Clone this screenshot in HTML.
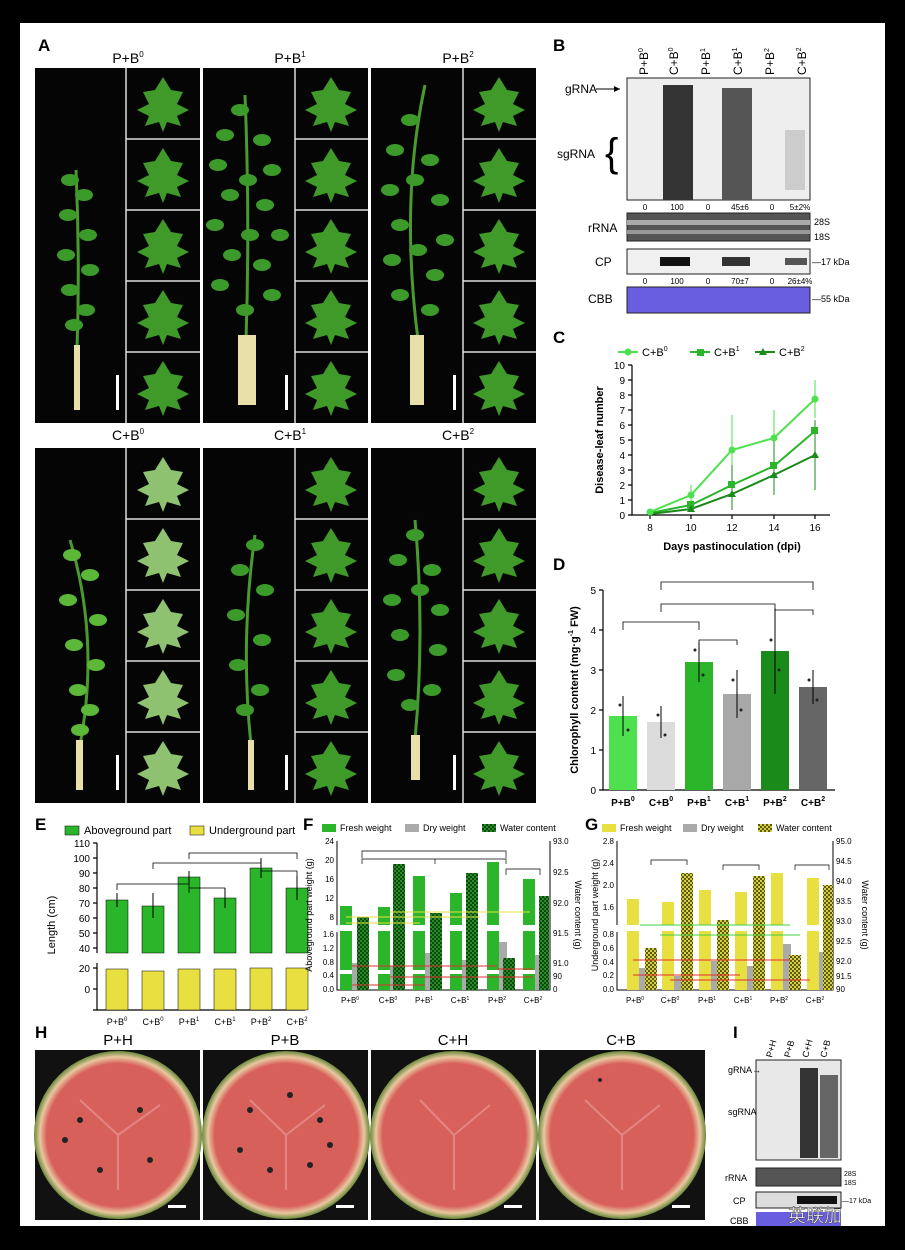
<!DOCTYPE html>
<html><head><meta charset="utf-8"><style>
html,body{margin:0;padding:0;background:#000;}
svg{display:block;font-family:"Liberation Sans",Arial,sans-serif;}
</style></head><body>
<svg width="905" height="1250" viewBox="0 0 905 1250" xmlns="http://www.w3.org/2000/svg">
<defs>
<pattern id="chk" width="4" height="4" patternUnits="userSpaceOnUse"><rect width="4" height="4" fill="#0a4a0a"/><rect width="2" height="2" fill="#2a8a2a"/><rect x="2" y="2" width="2" height="2" fill="#2a8a2a"/></pattern>
<pattern id="chky" width="4" height="4" patternUnits="userSpaceOnUse"><rect width="4" height="4" fill="#5a5a10"/><rect width="2" height="2" fill="#d8d040"/><rect x="2" y="2" width="2" height="2" fill="#d8d040"/></pattern>
<radialGradient id="melon" cx="50%" cy="50%" r="50%"><stop offset="0.85" stop-color="#d8605a"/><stop offset="0.93" stop-color="#e8c8a0"/><stop offset="1" stop-color="#6a8a3a"/></radialGradient>
<path id="leaf" d="M0,-27 L8,-14 L20,-12 L14,0 L26,6 L14,12 L18,22 L4,18 L0,28 L-4,18 L-18,22 L-14,12 L-26,6 L-14,0 L-20,-12 L-8,-14 Z"/>
<g id="pl"><ellipse cx="0" cy="0" rx="9" ry="6"/></g>
</defs>
<rect x="0" y="0" width="905" height="1250" fill="#000"/>
<rect x="20" y="23" width="865" height="1203" fill="#fff"/>

<!-- Panel A -->
<text x="38" y="51" font-size="17" font-weight="bold">A</text>
<g font-size="14" text-anchor="middle">
<text x="128" y="63">P+B<tspan font-size="8" dy="-6">0</tspan></text>
<text x="290" y="63">P+B<tspan font-size="8" dy="-6">1</tspan></text>
<text x="458" y="63">P+B<tspan font-size="8" dy="-6">2</tspan></text>
<text x="128" y="440">C+B<tspan font-size="8" dy="-6">0</tspan></text>
<text x="290" y="440">C+B<tspan font-size="8" dy="-6">1</tspan></text>
<text x="458" y="440">C+B<tspan font-size="8" dy="-6">2</tspan></text>
</g>
<rect x="35" y="68" width="165" height="355" fill="#050505"/>
<rect x="203" y="68" width="165" height="355" fill="#050505"/>
<rect x="371" y="68" width="165" height="355" fill="#050505"/>
<rect x="35" y="448" width="165" height="355" fill="#050505"/>
<rect x="203" y="448" width="165" height="355" fill="#050505"/>
<rect x="371" y="448" width="165" height="355" fill="#050505"/>
<g stroke="#ddd" stroke-width="1.5" fill="none">
<line x1="126" y1="68" x2="126" y2="423"/><line x1="295" y1="68" x2="295" y2="423"/><line x1="463" y1="68" x2="463" y2="423"/>
<line x1="126" y1="448" x2="126" y2="803"/><line x1="295" y1="448" x2="295" y2="803"/><line x1="463" y1="448" x2="463" y2="803"/>
<path d="M126 139H200M126 210H200M126 281H200M126 352H200M295 139H368M295 210H368M295 281H368M295 352H368M463 139H536M463 210H536M463 281H536M463 352H536"/>
<path d="M126 519H200M126 590H200M126 661H200M126 732H200M295 519H368M295 590H368M295 661H368M295 732H368M463 519H536M463 590H536M463 661H536M463 732H536"/>
</g>
<!-- leaves -->
<g fill="#3f9a2a">
<use href="#leaf" x="163" y="104"/><use href="#leaf" x="163" y="175"/><use href="#leaf" x="163" y="246"/><use href="#leaf" x="163" y="317"/><use href="#leaf" x="163" y="388"/>
<use href="#leaf" x="331" y="104"/><use href="#leaf" x="331" y="175"/><use href="#leaf" x="331" y="246"/><use href="#leaf" x="331" y="317"/><use href="#leaf" x="331" y="388"/>
<use href="#leaf" x="499" y="104"/><use href="#leaf" x="499" y="175"/><use href="#leaf" x="499" y="246"/><use href="#leaf" x="499" y="317"/><use href="#leaf" x="499" y="388"/>
<use href="#leaf" x="331" y="484"/><use href="#leaf" x="331" y="555"/><use href="#leaf" x="331" y="626"/><use href="#leaf" x="331" y="697"/><use href="#leaf" x="331" y="768"/>
<use href="#leaf" x="499" y="484"/><use href="#leaf" x="499" y="555"/><use href="#leaf" x="499" y="626"/><use href="#leaf" x="499" y="697"/><use href="#leaf" x="499" y="768"/>
</g>
<g fill="#8fc270">
<use href="#leaf" x="163" y="484"/><use href="#leaf" x="163" y="555"/><use href="#leaf" x="163" y="626"/><use href="#leaf" x="163" y="697"/><use href="#leaf" x="163" y="768"/>
</g>
<!-- plants: stems -->
<g stroke="#4a9a30" stroke-width="3" fill="none">
<path d="M76 170 Q80 260 77 350"/>
<path d="M245 95 Q250 220 246 340"/>
<path d="M425 85 Q400 200 418 340"/>
<path d="M70 540 Q100 640 80 745"/>
<path d="M255 535 Q240 640 251 745"/>
<path d="M415 520 Q425 630 415 740"/>
</g>
<g fill="#3c9a2a">
<!-- P+B0 -->
<use href="#pl" x="70" y="180"/><use href="#pl" x="84" y="195"/><use href="#pl" x="68" y="215"/><use href="#pl" x="88" y="235"/><use href="#pl" x="66" y="255"/><use href="#pl" x="90" y="270"/><use href="#pl" x="70" y="290"/><use href="#pl" x="86" y="310"/><use href="#pl" x="74" y="325"/>
<!-- P+B1 -->
<use href="#pl" x="240" y="110"/><use href="#pl" x="225" y="135"/><use href="#pl" x="262" y="140"/><use href="#pl" x="218" y="165"/><use href="#pl" x="272" y="170"/><use href="#pl" x="230" y="195"/><use href="#pl" x="265" y="205"/><use href="#pl" x="215" y="225"/><use href="#pl" x="280" y="235"/><use href="#pl" x="232" y="255"/><use href="#pl" x="262" y="265"/><use href="#pl" x="220" y="285"/><use href="#pl" x="272" y="295"/><use href="#pl" x="245" y="310"/><use href="#pl" x="248" y="180"/><use href="#pl" x="250" y="235"/>
<!-- P+B2 -->
<use href="#pl" x="410" y="120"/><use href="#pl" x="395" y="150"/><use href="#pl" x="430" y="160"/><use href="#pl" x="390" y="190"/><use href="#pl" x="440" y="200"/><use href="#pl" x="400" y="225"/><use href="#pl" x="445" y="240"/><use href="#pl" x="392" y="260"/><use href="#pl" x="435" y="275"/><use href="#pl" x="400" y="295"/><use href="#pl" x="430" y="310"/><use href="#pl" x="415" y="180"/><use href="#pl" x="418" y="250"/>
<!-- C+B2 -->
<use href="#pl" x="415" y="535"/><use href="#pl" x="398" y="560"/><use href="#pl" x="432" y="570"/><use href="#pl" x="392" y="600"/><use href="#pl" x="440" y="610"/><use href="#pl" x="400" y="635"/><use href="#pl" x="438" y="650"/><use href="#pl" x="396" y="675"/><use href="#pl" x="432" y="690"/><use href="#pl" x="410" y="705"/><use href="#pl" x="420" y="590"/>
<!-- C+B1 -->
<use href="#pl" x="255" y="545"/><use href="#pl" x="240" y="570"/><use href="#pl" x="265" y="590"/><use href="#pl" x="236" y="615"/><use href="#pl" x="262" y="640"/><use href="#pl" x="238" y="665"/><use href="#pl" x="260" y="690"/><use href="#pl" x="245" y="710"/>
</g>
<g fill="#5cb838">
<use href="#pl" x="72" y="555"/><use href="#pl" x="90" y="575"/><use href="#pl" x="68" y="600"/><use href="#pl" x="98" y="620"/><use href="#pl" x="74" y="645"/><use href="#pl" x="96" y="665"/><use href="#pl" x="78" y="690"/><use href="#pl" x="90" y="710"/><use href="#pl" x="80" y="730"/>
</g>
<g fill="#e8e0a8">
<rect x="74" y="345" width="6" height="65"/><rect x="238" y="335" width="18" height="70"/><rect x="410" y="335" width="14" height="70"/>
<rect x="76" y="740" width="7" height="50"/><rect x="248" y="740" width="6" height="50"/><rect x="411" y="735" width="9" height="45"/>
</g>
<g fill="#fff"><rect x="116" y="375" width="3" height="35"/><rect x="285" y="375" width="3" height="35"/><rect x="453" y="375" width="3" height="35"/><rect x="116" y="755" width="3" height="35"/><rect x="285" y="755" width="3" height="35"/><rect x="453" y="755" width="3" height="35"/></g>

<!-- Panel B -->
<text x="553" y="51" font-size="17" font-weight="bold">B</text>
<g font-size="12" text-anchor="start">
<text transform="translate(648,75) rotate(-90)">P+B<tspan font-size="7" dy="-5">0</tspan></text>
<text transform="translate(678,75) rotate(-90)">C+B<tspan font-size="7" dy="-5">0</tspan></text>
<text transform="translate(710,75) rotate(-90)">P+B<tspan font-size="7" dy="-5">1</tspan></text>
<text transform="translate(742,75) rotate(-90)">C+B<tspan font-size="7" dy="-5">1</tspan></text>
<text transform="translate(774,75) rotate(-90)">P+B<tspan font-size="7" dy="-5">2</tspan></text>
<text transform="translate(806,75) rotate(-90)">C+B<tspan font-size="7" dy="-5">2</tspan></text>
</g>
<rect x="627" y="78" width="183" height="122" fill="#eee" stroke="#222"/>
<rect x="663" y="85" width="30" height="115" fill="#333"/>
<rect x="722" y="88" width="30" height="112" fill="#555"/>
<rect x="785" y="130" width="20" height="60" fill="#ccc"/>
<text x="565" y="93" font-size="12">gRNA</text><path d="M596 89H620" stroke="#000"/><path d="M614 86L620 89L614 92Z"/>
<text x="557" y="158" font-size="12">sgRNA</text>
<text x="605" y="166" font-size="40" font-weight="100">{</text>
<g font-size="8" text-anchor="middle"><text x="645" y="210">0</text><text x="677" y="210">100</text><text x="708" y="210">0</text><text x="740" y="210">45±6</text><text x="772" y="210">0</text><text x="800" y="210">5±2%</text></g>
<rect x="627" y="213" width="183" height="28" fill="#555" stroke="#222"/>
<rect x="627" y="220" width="183" height="5" fill="#aaa"/><rect x="627" y="230" width="183" height="4" fill="#999"/>
<text x="588" y="232" font-size="12">rRNA</text><text x="814" y="225" font-size="9">28S</text><text x="814" y="240" font-size="9">18S</text>
<rect x="627" y="249" width="183" height="25" fill="#f0f0f0" stroke="#222"/>
<rect x="660" y="257" width="30" height="9" fill="#111"/><rect x="722" y="257" width="28" height="9" fill="#333"/><rect x="785" y="258" width="22" height="7" fill="#555"/>
<text x="595" y="266" font-size="12">CP</text><text x="812" y="265" font-size="9">—17 kDa</text>
<g font-size="8" text-anchor="middle"><text x="645" y="284">0</text><text x="677" y="284">100</text><text x="708" y="284">0</text><text x="740" y="284">70±7</text><text x="772" y="284">0</text><text x="800" y="284">26±4%</text></g>
<rect x="627" y="287" width="183" height="26" fill="#6a5ee0" stroke="#222"/>
<text x="588" y="303" font-size="12">CBB</text><text x="812" y="302" font-size="9">—55 kDa</text>

<!-- Panel C -->
<text x="553" y="343" font-size="17" font-weight="bold">C</text>
<g font-size="11"><circle cx="628" cy="352" r="3.5" fill="#4ee04e"/><path d="M618 352H638" stroke="#4ee04e" stroke-width="2"/><text x="642" y="356">C+B<tspan font-size="7" dy="-5">0</tspan></text>
<rect x="697" y="349" width="7" height="7" fill="#2ab52a"/><path d="M690 352H710" stroke="#2ab52a" stroke-width="2"/><text x="714" y="356">C+B<tspan font-size="7" dy="-5">1</tspan></text>
<path d="M763 348L767 355H759Z" fill="#1a8a1a"/><path d="M755 352H775" stroke="#1a8a1a" stroke-width="2"/><text x="779" y="356">C+B<tspan font-size="7" dy="-5">2</tspan></text></g>
<g stroke="#000" stroke-width="1.2" fill="none"><path d="M632 365V515H830"/>
<path d="M628 365H632M628 380H632M628 395H632M628 410H632M628 425H632M628 440H632M628 455H632M628 470H632M628 485H632M628 500H632M628 515H632"/>
<path d="M650 515V519M691 515V519M732 515V519M774 515V519M815 515V519"/></g>
<g font-size="10" text-anchor="end"><text x="625" y="369">10</text><text x="625" y="384">9</text><text x="625" y="399">8</text><text x="625" y="414">7</text><text x="625" y="429">6</text><text x="625" y="444">5</text><text x="625" y="459">4</text><text x="625" y="474">3</text><text x="625" y="489">2</text><text x="625" y="504">1</text><text x="625" y="519">0</text></g>
<g font-size="10" text-anchor="middle"><text x="650" y="531">8</text><text x="691" y="531">10</text><text x="732" y="531">12</text><text x="774" y="531">14</text><text x="815" y="531">16</text></g>
<text x="732" y="550" font-size="11" font-weight="bold" text-anchor="middle">Days pastinoculation (dpi)</text>
<text transform="translate(603,440) rotate(-90)" font-size="11" font-weight="bold" text-anchor="middle">Disease-leaf number</text>
<polyline points="650,512 691,495 732,450 774,438 815,399" fill="none" stroke="#4ee04e" stroke-width="2"/>
<polyline points="650,513 691,505 732,485 774,466 815,431" fill="none" stroke="#2ab52a" stroke-width="2"/>
<polyline points="650,514 691,509 732,494 774,475 815,455" fill="none" stroke="#1a8a1a" stroke-width="2"/>
<g stroke="#4ee04e" stroke-width="1"><path d="M691 485V505M732 415V485M774 410V466M815 380V418"/></g>
<g stroke="#1a8a1a" stroke-width="1"><path d="M732 465V510M774 440V495M815 420V490"/></g>
<g fill="#4ee04e"><circle cx="650" cy="512" r="3.5"/><circle cx="691" cy="495" r="3.5"/><circle cx="732" cy="450" r="3.5"/><circle cx="774" cy="438" r="3.5"/><circle cx="815" cy="399" r="3.5"/></g>
<g fill="#2ab52a"><rect x="687" y="501" width="7" height="7"/><rect x="728" y="481" width="7" height="7"/><rect x="770" y="462" width="7" height="7"/><rect x="811" y="427" width="7" height="7"/></g>
<g fill="#1a8a1a"><path d="M691 505L695 512H687Z M732 490L736 497H728Z M774 471L778 478H770Z M815 451L819 458H811Z"/></g>

<!-- Panel D -->
<text x="553" y="570" font-size="17" font-weight="bold">D</text>
<g stroke="#000" stroke-width="1.2" fill="none"><path d="M603 590V790H835"/>
<path d="M599 590H603M599 630H603M599 670H603M599 710H603M599 750H603M599 790H603"/></g>
<g font-size="10" text-anchor="end"><text x="596" y="594">5</text><text x="596" y="634">4</text><text x="596" y="674">3</text><text x="596" y="714">2</text><text x="596" y="754">1</text><text x="596" y="794">0</text></g>
<text transform="translate(578,690) rotate(-90)" font-size="11" font-weight="bold" text-anchor="middle">Chlorophyll content (mg·g<tspan font-size="7" dy="-5">-1</tspan><tspan dy="5"> FW)</tspan></text>
<rect x="609" y="716" width="28" height="74" fill="#4ee04e"/>
<rect x="647" y="722" width="28" height="68" fill="#dcdcdc"/>
<rect x="685" y="662" width="28" height="128" fill="#2ab52a"/>
<rect x="723" y="694" width="28" height="96" fill="#a8a8a8"/>
<rect x="761" y="651" width="28" height="139" fill="#1a8a1a"/>
<rect x="799" y="687" width="28" height="103" fill="#666"/>
<g stroke="#000" stroke-width="1"><path d="M623 696V736M661 706V738M699 642V682M737 670V718M775 608V694M813 670V704"/></g>
<g fill="#222"><circle cx="620" cy="705" r="1.5"/><circle cx="628" cy="730" r="1.5"/><circle cx="658" cy="715" r="1.5"/><circle cx="665" cy="735" r="1.5"/><circle cx="695" cy="650" r="1.5"/><circle cx="703" cy="675" r="1.5"/><circle cx="733" cy="680" r="1.5"/><circle cx="741" cy="710" r="1.5"/><circle cx="771" cy="640" r="1.5"/><circle cx="779" cy="670" r="1.5"/><circle cx="809" cy="680" r="1.5"/><circle cx="817" cy="700" r="1.5"/></g>
<g stroke="#000" stroke-width="0.8" fill="none"><path d="M623 630V622H699V630M661 612V604H775V612M661 590V582H813V590M699 645V640H737V645M775 615V610H813V615"/></g>
<g font-size="10" font-weight="bold" text-anchor="middle"><text x="623" y="806">P+B<tspan font-size="7" dy="-5">0</tspan></text><text x="661" y="806">C+B<tspan font-size="7" dy="-5">0</tspan></text><text x="699" y="806">P+B<tspan font-size="7" dy="-5">1</tspan></text><text x="737" y="806">C+B<tspan font-size="7" dy="-5">1</tspan></text><text x="775" y="806">P+B<tspan font-size="7" dy="-5">2</tspan></text><text x="813" y="806">C+B<tspan font-size="7" dy="-5">2</tspan></text></g>

<!-- Panel E -->
<text x="35" y="830" font-size="17" font-weight="bold">E</text>
<g font-size="11"><rect x="65" y="826" width="14" height="9" fill="#2ab52a" stroke="#000" stroke-width="0.5"/><text x="84" y="834">Aboveground part</text>
<rect x="190" y="826" width="14" height="9" fill="#e8e040" stroke="#000" stroke-width="0.5"/><text x="209" y="834">Underground part</text></g>
<g stroke="#000" stroke-width="1.2" fill="none"><path d="M97 843V953M97 963V1010H305"/>
<path d="M93 843H97M93 858H97M93 873H97M93 888H97M93 903H97M93 918H97M93 933H97M93 948H97M93 968H97M93 989H97M93 1010H97"/></g>
<g font-size="10" text-anchor="end"><text x="90" y="847">110</text><text x="90" y="862">100</text><text x="90" y="877">90</text><text x="90" y="892">80</text><text x="90" y="907">70</text><text x="90" y="922">60</text><text x="90" y="937">50</text><text x="90" y="952">40</text><text x="90" y="972">20</text><text x="90" y="993">0</text></g>
<text transform="translate(55,925) rotate(-90)" font-size="11" text-anchor="middle">Length (cm)</text>
<g fill="#2ab52a" stroke="#000" stroke-width="0.5">
<rect x="106" y="900" width="22" height="53"/><rect x="142" y="906" width="22" height="47"/><rect x="178" y="877" width="22" height="76"/><rect x="214" y="898" width="22" height="55"/><rect x="250" y="868" width="22" height="85"/><rect x="286" y="888" width="22" height="65"/></g>
<g fill="#e8e040" stroke="#000" stroke-width="0.5">
<rect x="106" y="969" width="22" height="41"/><rect x="142" y="971" width="22" height="39"/><rect x="178" y="969" width="22" height="41"/><rect x="214" y="969" width="22" height="41"/><rect x="250" y="968" width="22" height="42"/><rect x="286" y="968" width="22" height="42"/></g>
<g stroke="#000"><path d="M117 893V907M153 893V918M189 871V884M225 888V908M261 858V878M297 876V900"/></g>
<g stroke="#000" stroke-width="0.8" fill="none"><path d="M117 890V884H189V890M153 869V863H261V869M189 859V853H297V859M189 893V888H225V893M261 876V871H297V876"/></g>
<g font-size="9" text-anchor="middle"><text x="117" y="1025">P+B<tspan font-size="6" dy="-4">0</tspan></text><text x="153" y="1025">C+B<tspan font-size="6" dy="-4">0</tspan></text><text x="189" y="1025">P+B<tspan font-size="6" dy="-4">1</tspan></text><text x="225" y="1025">C+B<tspan font-size="6" dy="-4">1</tspan></text><text x="261" y="1025">P+B<tspan font-size="6" dy="-4">2</tspan></text><text x="297" y="1025">C+B<tspan font-size="6" dy="-4">2</tspan></text></g>

<!-- Panel F -->
<text x="303" y="830" font-size="17" font-weight="bold">F</text>
<g font-size="9"><rect x="322" y="824" width="14" height="8" fill="#2ab52a"/><text x="340" y="831">Fresh weight</text>
<rect x="405" y="824" width="14" height="8" fill="#aaa"/><text x="423" y="831">Dry weight</text>
<rect x="482" y="824" width="14" height="8" fill="url(#chk)"/><text x="500" y="831">Water content</text></g>
<g stroke="#000" stroke-width="1" fill="none"><path d="M337 841V925M337 932V990H550V841"/></g>
<g font-size="8" text-anchor="end"><text x="334" y="844">24</text><text x="334" y="863">20</text><text x="334" y="882">16</text><text x="334" y="901">12</text><text x="334" y="920">8</text><text x="334" y="937">1.6</text><text x="334" y="951">1.2</text><text x="334" y="965">0.8</text><text x="334" y="978">0.4</text><text x="334" y="992">0.0</text></g>
<g font-size="8"><text x="553" y="844">93.0</text><text x="553" y="875">92.5</text><text x="553" y="906">92.0</text><text x="553" y="936">91.5</text><text x="553" y="966">91.0</text><text x="553" y="979">90</text><text x="553" y="992">0</text></g>
<text transform="translate(312,915) rotate(-90)" font-size="9" text-anchor="middle">Aboveground part weight (g)</text>
<text transform="translate(575,915) rotate(90)" font-size="9" text-anchor="middle">Water content (g)</text>
<g fill="#2ab52a"><rect x="340" y="906" width="12" height="84"/><rect x="378" y="907" width="12" height="83"/><rect x="413" y="876" width="12" height="114"/><rect x="450" y="893" width="12" height="97"/><rect x="487" y="862" width="12" height="128"/><rect x="523" y="879" width="12" height="111"/></g>
<g fill="#fff"><rect x="338" y="925" width="200" height="6"/><rect x="338" y="970" width="200" height="4"/></g>
<g fill="#aaa"><rect x="352" y="963" width="8" height="27"/><rect x="390" y="966" width="8" height="24"/><rect x="425" y="953" width="8" height="37"/><rect x="462" y="960" width="8" height="30"/><rect x="499" y="942" width="8" height="48"/><rect x="535" y="955" width="8" height="35"/></g>
<g fill="url(#chk)"><rect x="357" y="917" width="12" height="73"/><rect x="393" y="864" width="12" height="126"/><rect x="430" y="913" width="12" height="77"/><rect x="466" y="873" width="12" height="117"/><rect x="503" y="958" width="12" height="32"/><rect x="539" y="896" width="10" height="94"/></g>
<g stroke="#e03030" stroke-width="1"><path d="M352 966H497M390 977H533M352 985H425M497 969H533"/></g>
<g stroke="#e8e040" stroke-width="1"><path d="M346 917H480M346 923H420M390 912H530"/></g>
<g stroke="#000" stroke-width="0.7" fill="none"><path d="M362 858V851H506V858M362 864V859H435V864M435 864V859H506V864M506 875V869H540V875"/></g>
<g font-size="8" text-anchor="middle"><text x="350" y="1003">P+B<tspan font-size="5" dy="-3">0</tspan></text><text x="388" y="1003">C+B<tspan font-size="5" dy="-3">0</tspan></text><text x="424" y="1003">P+B<tspan font-size="5" dy="-3">1</tspan></text><text x="460" y="1003">C+B<tspan font-size="5" dy="-3">1</tspan></text><text x="497" y="1003">P+B<tspan font-size="5" dy="-3">2</tspan></text><text x="533" y="1003">C+B<tspan font-size="5" dy="-3">2</tspan></text></g>

<!-- Panel G -->
<text x="585" y="830" font-size="17" font-weight="bold">G</text>
<g font-size="9"><rect x="602" y="824" width="14" height="8" fill="#e8e040"/><text x="620" y="831">Fresh weight</text>
<rect x="683" y="824" width="14" height="8" fill="#aaa"/><text x="701" y="831">Dry weight</text>
<rect x="758" y="824" width="14" height="8" fill="url(#chky)"/><text x="776" y="831">Water content</text></g>
<g stroke="#000" stroke-width="1" fill="none"><path d="M617 841V925M617 932V990H833V841"/></g>
<g font-size="8" text-anchor="end"><text x="614" y="844">2.8</text><text x="614" y="866">2.4</text><text x="614" y="888">2.0</text><text x="614" y="910">1.6</text><text x="614" y="937">0.8</text><text x="614" y="951">0.6</text><text x="614" y="965">0.4</text><text x="614" y="978">0.2</text><text x="614" y="992">0.0</text></g>
<g font-size="8"><text x="836" y="844">95.0</text><text x="836" y="864">94.5</text><text x="836" y="884">94.0</text><text x="836" y="904">93.5</text><text x="836" y="924">93.0</text><text x="836" y="944">92.5</text><text x="836" y="964">92.0</text><text x="836" y="979">91.5</text><text x="836" y="992">90</text></g>
<text transform="translate(598,915) rotate(-90)" font-size="9" text-anchor="middle">Underground part weight (g)</text>
<text transform="translate(862,915) rotate(90)" font-size="9" text-anchor="middle">Water content (g)</text>
<g fill="#e8e040"><rect x="627" y="899" width="12" height="91"/><rect x="662" y="902" width="12" height="88"/><rect x="699" y="890" width="12" height="100"/><rect x="735" y="892" width="12" height="98"/><rect x="771" y="873" width="12" height="117"/><rect x="807" y="878" width="12" height="112"/></g>
<g fill="#fff"><rect x="618" y="925" width="205" height="6"/></g>
<g fill="#aaa"><rect x="639" y="968" width="8" height="22"/><rect x="674" y="976" width="8" height="14"/><rect x="711" y="961" width="8" height="29"/><rect x="747" y="966" width="8" height="24"/><rect x="783" y="944" width="8" height="46"/><rect x="819" y="952" width="8" height="38"/></g>
<g fill="url(#chky)"><rect x="645" y="948" width="12" height="42"/><rect x="681" y="873" width="12" height="117"/><rect x="717" y="920" width="12" height="70"/><rect x="753" y="876" width="12" height="114"/><rect x="789" y="955" width="12" height="35"/><rect x="823" y="885" width="10" height="105"/></g>
<g stroke="#e03030" stroke-width="1"><path d="M633 960H790M633 975H740M670 980H810"/></g>
<g stroke="#40d040" stroke-width="1"><path d="M640 925H790M660 935H800"/></g>
<g stroke="#000" stroke-width="0.7" fill="none"><path d="M651 865V860H687V865M723 870V865H759V870M795 870V865H829V870"/></g>
<g font-size="8" text-anchor="middle"><text x="635" y="1003">P+B<tspan font-size="5" dy="-3">0</tspan></text><text x="670" y="1003">C+B<tspan font-size="5" dy="-3">0</tspan></text><text x="707" y="1003">P+B<tspan font-size="5" dy="-3">1</tspan></text><text x="743" y="1003">C+B<tspan font-size="5" dy="-3">1</tspan></text><text x="779" y="1003">P+B<tspan font-size="5" dy="-3">2</tspan></text><text x="815" y="1003">C+B<tspan font-size="5" dy="-3">2</tspan></text></g>

<!-- Panel H -->
<text x="35" y="1038" font-size="17" font-weight="bold">H</text>
<g font-size="15" text-anchor="middle"><text x="118" y="1045">P+H</text><text x="285" y="1045">P+B</text><text x="453" y="1045">C+H</text><text x="621" y="1045">C+B</text></g>
<rect x="35" y="1050" width="165" height="170" fill="#111"/><rect x="203" y="1050" width="165" height="170" fill="#111"/><rect x="371" y="1050" width="165" height="170" fill="#111"/><rect x="539" y="1050" width="166" height="170" fill="#111"/>
<circle cx="118" cy="1135" r="84" fill="url(#melon)"/><circle cx="286" cy="1135" r="84" fill="url(#melon)"/><circle cx="454" cy="1135" r="84" fill="url(#melon)"/><circle cx="622" cy="1135" r="84" fill="url(#melon)"/>
<g stroke="#eaa0a0" stroke-width="2" fill="none" opacity="0.6">
<path d="M118 1135L80 1100M118 1135L160 1105M118 1135L118 1190M286 1135L250 1100M286 1135L325 1105M286 1135L286 1190M454 1135L420 1100M454 1135L490 1105M454 1135L454 1190M622 1135L585 1100M622 1135L660 1105M622 1135L622 1190"/>
</g>
<g fill="#222"><circle cx="80" cy="1120" r="3"/><circle cx="140" cy="1110" r="3"/><circle cx="100" cy="1170" r="3"/><circle cx="150" cy="1160" r="3"/><circle cx="65" cy="1140" r="3"/><circle cx="250" cy="1110" r="3"/><circle cx="320" cy="1120" r="3"/><circle cx="270" cy="1170" r="3"/><circle cx="310" cy="1165" r="3"/><circle cx="290" cy="1095" r="3"/><circle cx="240" cy="1150" r="3"/><circle cx="330" cy="1145" r="3"/><circle cx="600" cy="1080" r="2"/></g>
<g fill="#fff"><rect x="168" y="1205" width="18" height="3"/><rect x="336" y="1205" width="18" height="3"/><rect x="504" y="1205" width="18" height="3"/><rect x="672" y="1205" width="18" height="3"/></g>

<!-- Panel I -->
<text x="733" y="1038" font-size="17" font-weight="bold">I</text>
<g font-size="9"><text transform="translate(772,1058) rotate(-75)">P+H</text><text transform="translate(790,1058) rotate(-75)">P+B</text><text transform="translate(808,1058) rotate(-75)">C+H</text><text transform="translate(826,1058) rotate(-75)">C+B</text></g>
<rect x="756" y="1060" width="85" height="100" fill="#e8e8e8" stroke="#222"/>
<rect x="800" y="1068" width="18" height="90" fill="#333"/><rect x="820" y="1075" width="18" height="83" fill="#666"/>
<text x="728" y="1073" font-size="9">gRNA→</text><text x="728" y="1115" font-size="9">sgRNA</text>
<rect x="756" y="1168" width="85" height="18" fill="#555" stroke="#222"/>
<text x="725" y="1181" font-size="9">rRNA</text><text x="844" y="1176" font-size="7">28S</text><text x="844" y="1185" font-size="7">18S</text>
<rect x="756" y="1192" width="85" height="16" fill="#ddd" stroke="#222"/><rect x="797" y="1196" width="40" height="8" fill="#111"/>
<text x="733" y="1204" font-size="9">CP</text><text x="842" y="1203" font-size="7">—17 kDa</text>
<rect x="756" y="1212" width="85" height="14" fill="#6a5ee0"/>
<text x="730" y="1224" font-size="9">CBB</text>
<text x="788" y="1222" font-size="18" fill="#fff" stroke="#444" stroke-width="0.5" font-family="'Noto Sans CJK SC',sans-serif">英联加</text>
</svg>
</body></html>
